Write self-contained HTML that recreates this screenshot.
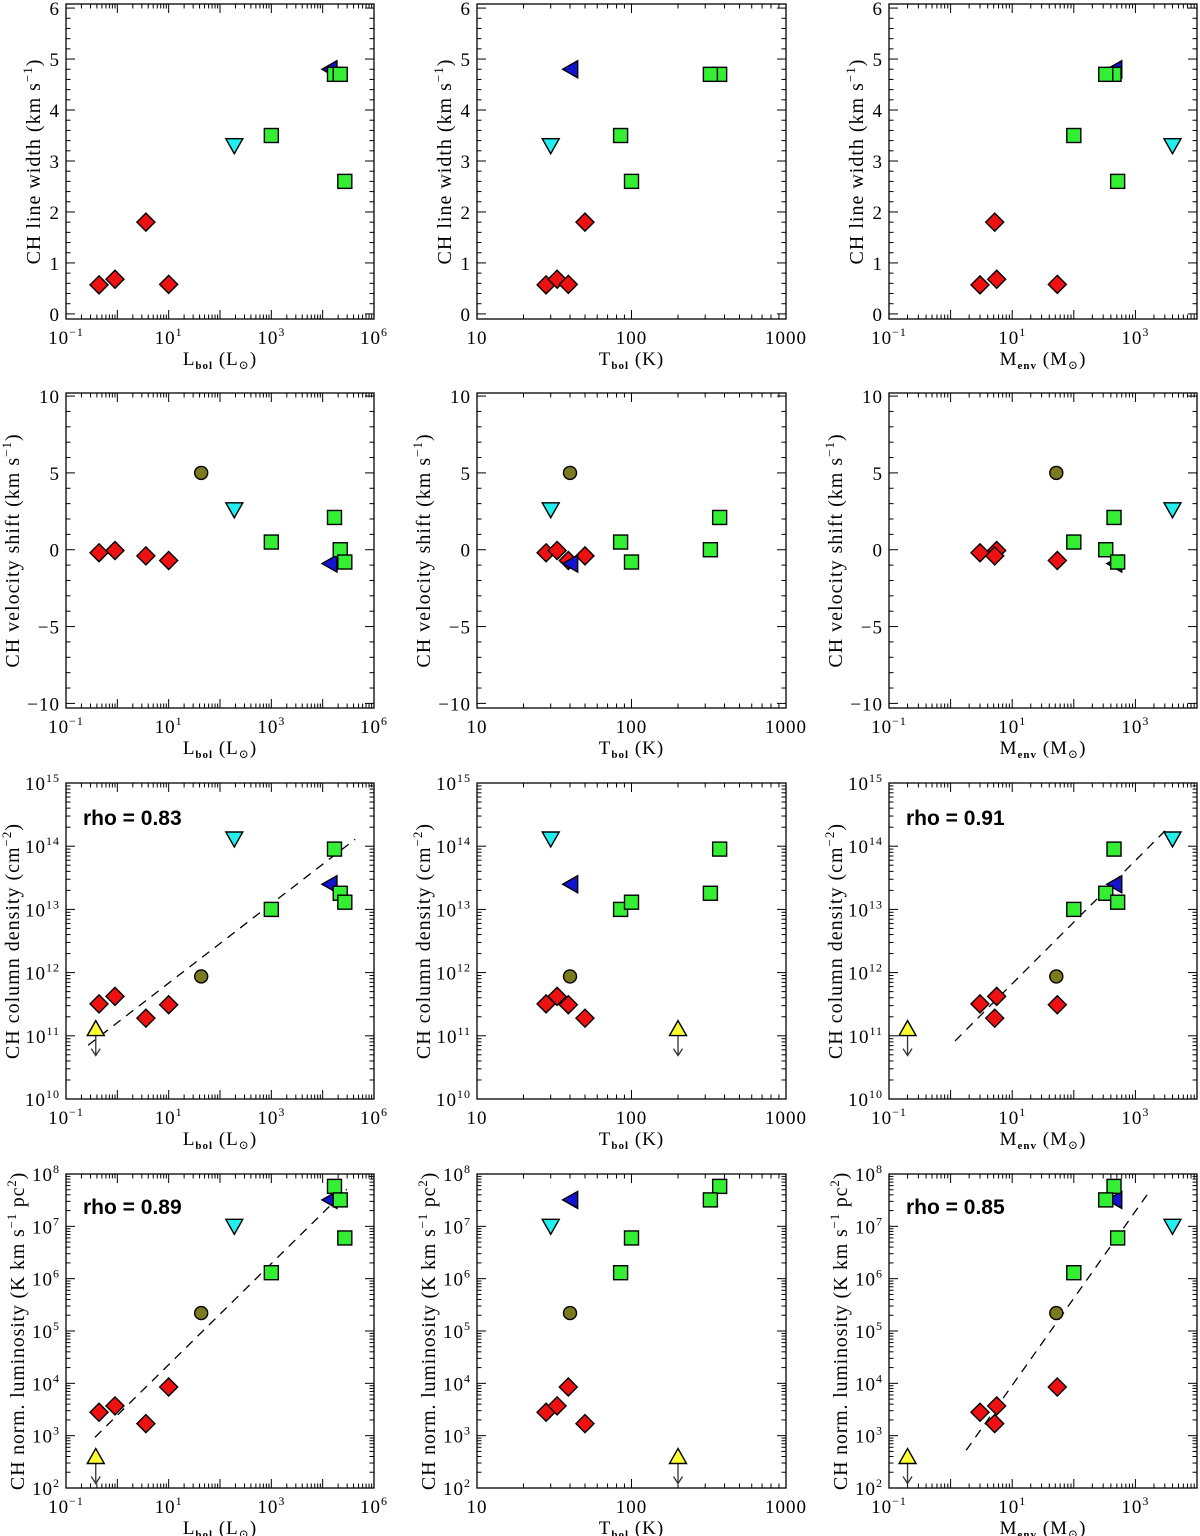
<!DOCTYPE html>
<html><head><meta charset="utf-8">
<style>
html,body{margin:0;padding:0;background:#fff;}
svg{display:block;}
text{font-family:"Liberation Serif","DejaVu Serif",serif;fill:#000;}
.rho{font-family:"Liberation Sans",sans-serif;font-weight:bold;font-size:21px;}
</style></head>
<body>
<svg id="fig" width="1200" height="1536" viewBox="0 0 1200 1536" xmlns="http://www.w3.org/2000/svg"></svg>
<script>
// Sources: R1,R2,R3,R4 (red diamonds), olive circle, cyan tri-down, G1, blue tri-left, G2, G3, G4 (green squares), yellow tri-up (upper limit)
const sourceNames = ["red-1","red-2","red-3","red-4","olive-1","cyan-1","green-1","blue-1","green-2","green-3","green-4","yellow-1"];
const sourceTypes = ["diamond","diamond","diamond","diamond","circle","tridown","square","trileft","square","square","square","triup"];
const Lbol = [0.44,0.9,3.6,10,43,190,1000,1.45e4,1.7e4,2.2e4,2.7e4,0.38];
const Tbol = [28,33,50,39,40,30,85,41,372,324,100,200];
const Menv = [3.0,5.6,5.2,54,52,4000,100,480,450,330,515,0.2];
const lineWidth = [0.57,0.68,1.8,0.58,null,3.3,3.5,4.8,4.7,4.7,2.6,null];
const vShift = [-0.2,-0.05,-0.4,-0.7,5.0,2.6,0.5,-0.9,2.1,0.0,-0.8,null];
const colDens = [3.2e11,4.2e11,1.9e11,3.1e11,8.7e11,1.3e14,1.0e13,2.5e13,9e13,1.8e13,1.3e13,1.3e11];
const normLum = [2.8e3,3.7e3,1.7e3,8.5e3,2.2e5,1.0e7,1.3e6,3.2e7,5.8e7,3.2e7,6e6,400];
// fit lines: [x0,x1] and [y0,y1] in data units
const fitColDensL_x = [0.27,4.3e4], fitColDensL_y = [7.1e10,1.29e14];
const fitNormLumL_x = [0.367,2.95e4], fitNormLumL_y = [933,5.1e7];
const fitColDensM_x = [1.18,3550], fitColDensM_y = [8.3e10,2.04e14];
const fitNormLumM_x = [1.79,1585], fitNormLumM_y = [525,4.17e7];
const rhoLabels = ["rho = 0.83","rho = 0.89","rho = 0.91","rho = 0.85"];

const NS="http://www.w3.org/2000/svg";
const svg=document.getElementById('fig');
function el(tag,attrs,parent){const e=document.createElementNS(NS,tag);for(const k in attrs)e.setAttribute(k,attrs[k]);(parent||svg).appendChild(e);return e;}
const colors={diamond:"#ee1111",circle:"#7a7a1e",tridown:"#22eeee",square:"#33ee33",trileft:"#1414d0",triup:"#ffff33"};

const cols=[{x0:66,x1:374,lo:-1,hi:5,log:true,ticks:[-1,1,3,5],labs:["-1","1","3","6"],title:"L",sub:"bol",unit:"(L",usub:"⊙",ux:")",key:"L"},
            {x0:477,x1:786,lo:1,hi:3,log:true,ticks:[1,2,3],plain:["10","100","1000"],title:"T",sub:"bol",unit:"(K)",key:"T"},
            {x0:889,x1:1197,lo:-1,hi:4,log:true,ticks:[-1,1,3],labs:["-1","1","3"],title:"M",sub:"env",unit:"(M",usub:"⊙",ux:")",key:"M"}];
const rows=[{y0:4,y1:319,lo:-0.1,hi:6.08,log:false,major:[0,1,2,3,4,5,6],minorStep:0.2,title:"CH line width (km s",sup:"−1",tend:")",data:lineWidth,name:"line-width",tOff:26,ls:1},
            {y0:393,y1:708,lo:-10.3,hi:10.2,log:false,major:[-10,-5,0,5,10],minorStep:1,title:"CH velocity shift (km s",sup:"−1",tend:")",data:vShift,name:"velocity-shift",tOff:47,ls:1},
            {y0:783,y1:1099,lo:10,hi:15,log:true,major:[10,11,12,13,14,15],title:"CH column density (cm",sup:"−2",tend:")",data:colDens,name:"column-density",tOff:47,ls:1},
            {y0:1174,y1:1488,lo:2,hi:8,log:true,major:[2,3,4,5,6,7,8],title:"CH norm. luminosity (K km s",sup:"−1",mid:" pc",sup2:"2",tend:")",data:normLum,name:"norm-luminosity",tOff:42,ls:0.8}];
const xData={L:Lbol,T:Tbol,M:Menv};

function xs(c,v){const t=c.log?Math.log10(v):v;return c.x0+(t-c.lo)/(c.hi-c.lo)*(c.x1-c.x0);}
function ys(r,v){const t=r.log?Math.log10(v):v;return r.y1-(t-r.lo)/(r.hi-r.lo)*(r.y1-r.y0);}

function marker(g,type,x,y){
  const st={fill:colors[type],stroke:"#000","stroke-width":1.4};
  let m;
  if(type==="diamond"){m=el('polygon',Object.assign({points:`${x},${y-9} ${x+9},${y} ${x},${y+9} ${x-9},${y}`},st),g);}
  else if(type==="square"){m=el('rect',Object.assign({x:x-7,y:y-7,width:14,height:14},st),g);}
  else if(type==="circle"){m=el('circle',Object.assign({cx:x,cy:y,r:6.5},st),g);}
  else if(type==="tridown"){m=el('polygon',Object.assign({points:`${x-8.5},${y-7} ${x+8.5},${y-7} ${x},${y+8}`},st),g);}
  else if(type==="trileft"){m=el('polygon',Object.assign({points:`${x-9},${y} ${x+6},${y-8.5} ${x+6},${y+8.5}`},st),g);}
  else if(type==="triup"){
    el('line',{x1:x,y1:y+6,x2:x,y2:y+27,stroke:"#333","stroke-width":1.3},g);
    el('polyline',{points:`${x-4.5},${y+20} ${x},${y+27} ${x+4.5},${y+20}`,fill:"none",stroke:"#333","stroke-width":1.3},g);
    m=el('polygon',Object.assign({points:`${x-8.5},${y+7} ${x+8.5},${y+7} ${x},${y-8}`},st),g);}
  return m;
}

rows.forEach((r,ri)=>{cols.forEach((c,ci)=>{
  const g=el('g',{});
  
  
  const tk=el('g',{stroke:"#000","stroke-width":1,fill:"none"},g);
  
  
  for(let d=Math.floor(c.lo);d<c.hi;d++){for(let k=1;k<10;k++){const lv=d+Math.log10(k);if(lv<c.lo-1e-9||lv>c.hi+1e-9)continue;const px=c.x0+(lv-c.lo)/(c.hi-c.lo)*(c.x1-c.x0);const L=k===1?9:4.5;
    el('line',{x1:px,y1:r.y1,x2:px,y2:r.y1-L},tk);el('line',{x1:px,y1:r.y0,x2:px,y2:r.y0+L},tk);}}
  if(r.log){for(let d=r.lo;d<r.hi;d++){for(let k=1;k<10;k++){const lv=d+Math.log10(k);const py=r.y1-(lv-r.lo)/(r.hi-r.lo)*(r.y1-r.y0);const L=k===1?9:4.5;
      el('line',{x1:c.x0,y1:py,x2:c.x0+L,y2:py},tk);el('line',{x1:c.x1,y1:py,x2:c.x1-L,y2:py},tk);}}}
  else{const n0=Math.ceil(r.lo/r.minorStep),n1=Math.floor(r.hi/r.minorStep);for(let n=n0;n<=n1;n++){const v=n*r.minorStep;const py=ys(r,v);const maj=r.major.some(m=>Math.abs(m-v)<1e-6);const L=maj?9:4.5;
      el('line',{x1:c.x0,y1:py,x2:c.x0+L,y2:py},tk);el('line',{x1:c.x1,y1:py,x2:c.x1-L,y2:py},tk);}}
  const fr=el('rect',{x:c.x0,y:r.y0,width:c.x1-c.x0,height:r.y1-r.y0,fill:"none",stroke:"#000","stroke-width":1.3},g);
  
  
  c.ticks.forEach((t,i)=>{const px=c.x0+(t-c.lo)/(c.hi-c.lo)*(c.x1-c.x0);
    const tx=el('text',{x:px,y:r.y1+25,"font-size":19,"text-anchor":"middle","letter-spacing":1},g);
    
    
    if(c.plain){tx.textContent=c.plain[i];}
    else{tx.appendChild(document.createTextNode("10"));const s=el('tspan',{"font-size":12,dy:-8},tx);s.textContent=c.labs[i].replace("-","−");}
  });
  const xt=el('text',{x:(c.x0+c.x1)/2,y:r.y1+46,"font-size":19,"text-anchor":"middle","letter-spacing":1},g);
  
  
  xt.appendChild(document.createTextNode(c.title));
  let s=el('tspan',{"font-size":11,"font-weight":"bold",dy:4},xt);s.textContent=c.sub;
  s=el('tspan',{dy:-4},xt);s.textContent="  "+c.unit;
  if(c.usub){s=el('tspan',{"font-size":12,dy:4},xt);s.textContent=c.usub;s=el('tspan',{dy:-4},xt);s.textContent=c.ux;}
  r.major.forEach(t=>{const py=r.log?r.y1-(t-r.lo)/(r.hi-r.lo)*(r.y1-r.y0):ys(r,t);
    const tx=el('text',{x:c.x0-6,y:py+7,"font-size":19,"text-anchor":"end","letter-spacing":1},g);
    
    
    if(r.log){tx.appendChild(document.createTextNode("10"));const sp=el('tspan',{"font-size":12,dy:-8},tx);sp.textContent=String(t);}
    else tx.textContent=String(t).replace("-","−");
  });
  const tx0=c.x0-r.tOff;
  const yc=(r.y0+r.y1)/2;
  const yt=el('text',{x:tx0,y:yc,"font-size":20,"text-anchor":"middle","letter-spacing":r.ls,transform:`rotate(-90 ${tx0} ${yc})`},g);
  
  
  yt.appendChild(document.createTextNode(r.title));
  s=el('tspan',{"font-size":13,dy:-8},yt);s.textContent=r.sup;
  if(r.mid){s=el('tspan',{dy:8},yt);s.textContent=r.mid;s=el('tspan',{"font-size":13,dy:-8},yt);s.textContent=r.sup2;}
  s=el('tspan',{dy:8},yt);s.textContent=r.tend;
  let fx=null,fy=null;
  if(ci===0&&ri===2){fx=fitColDensL_x;fy=fitColDensL_y;}
  if(ci===0&&ri===3){fx=fitNormLumL_x;fy=fitNormLumL_y;}
  if(ci===2&&ri===2){fx=fitColDensM_x;fy=fitColDensM_y;}
  if(ci===2&&ri===3){fx=fitNormLumM_x;fy=fitNormLumM_y;}
  if(fx){const fl=el('line',{x1:xs(c,fx[0]),y1:ys(r,fy[0]),x2:xs(c,fx[1]),y2:ys(r,fy[1]),stroke:"#000","stroke-width":1.3,"stroke-dasharray":"9,7"},g);
    
    
    const idx=(ri===2?0:1)+(ci===2?2:0);
    const rt=el('text',{x:c.x0+17,y:ri===2?825:1214,class:"rho"},g);
    
    
    rt.textContent=rhoLabels[idx];}
  const xd=xData[c.key];
  for(let i=0;i<sourceNames.length;i++){const v=r.data[i];if(v===null||v===undefined)continue;
    const m=marker(g,sourceTypes[i],xs(c,xd[i]),ys(r,v));
    
    }
});});
</script>
</body></html>
